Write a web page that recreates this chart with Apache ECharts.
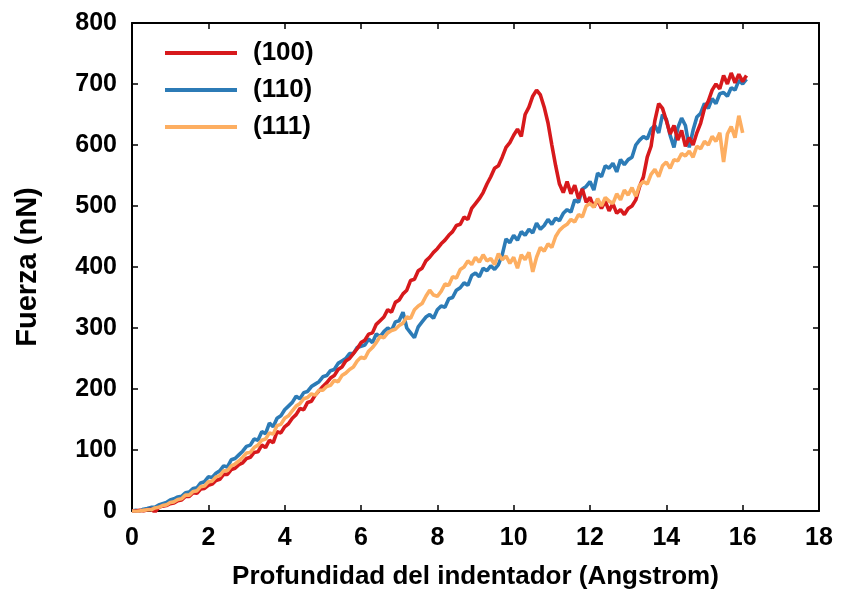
<!DOCTYPE html>
<html>
<head>
<meta charset="utf-8">
<script src="https://cdn.jsdelivr.net/npm/echarts@6/dist/echarts.min.js"></script>
<style>html,body{margin:0;padding:0;background:#fff}#c{width:841px;height:595px}</style>
</head>
<body>
<div id="c"></div>
<script>
// Depth (Angstrom), step 0.1
const depth = [];
for (let i = 0; i <= 161; i++) depth.push(+(i / 10).toFixed(1));

const xTicks = [0, 2, 4, 6, 8, 10, 12, 14, 16, 18];
const yTicks = [0, 100, 200, 300, 400, 500, 600, 700, 800];
const seriesNames = ['(100)', '(110)', '(111)'];

const f100 = [0,0,1,0,2,3,-2,6,8,9,12,13,17,18,24,24,30,29,36,37,42,44,50,52,60,60,68,70,76,79,86,88,96,97,108,104,116,112,130,128,138,143,152,158,168,166,178,180,190,197,204,210,218,222,232,236,246,250,258,266,276,280,290,292,306,312,318,330,326,342,346,356,362,378,380,394,398,410,416,424,430,438,444,452,458,468,470,482,478,496,504,512,522,536,548,562,566,580,596,604,616,626,614,650,662,680,690,682,662,636,600,566,536,522,540,520,534,512,528,506,514,498,510,496,508,492,504,488,494,486,496,500,510,532,548,580,598,640,668,660,640,618,632,608,624,598,612,600,620,636,660,672,690,700,692,714,700,718,702,716,704,714];

const f110 = [0,1,0,3,4,6,6,10,12,14,18,20,23,24,30,31,37,38,46,48,56,55,62,66,74,72,84,86,92,98,106,108,118,116,130,127,144,138,152,156,166,172,178,188,184,194,196,204,208,212,220,222,230,232,242,246,250,258,258,268,270,272,282,276,290,286,294,300,296,310,312,326,300,292,284,302,310,318,322,316,330,336,334,348,350,362,366,374,370,386,390,384,398,394,402,396,404,420,446,440,452,444,458,452,462,456,472,462,468,478,470,480,476,488,494,490,510,506,528,532,540,526,554,548,566,562,570,556,576,568,576,580,600,608,614,610,626,632,620,650,642,616,596,628,644,632,596,624,646,652,668,660,676,668,684,686,680,694,690,706,700,708];

const f111 = [0,-1,0,1,2,2,5,6,9,10,14,15,19,20,26,26,32,33,40,41,48,49,56,58,66,66,74,77,82,88,95,96,104,108,116,118,128,126,140,142,152,156,164,172,176,184,186,192,190,198,198,204,206,214,212,222,226,232,236,246,252,250,262,268,276,286,284,292,296,298,304,308,318,316,330,336,340,352,362,354,352,360,372,370,384,382,396,400,410,404,416,408,420,410,414,404,422,412,418,406,416,398,420,412,424,392,416,432,426,438,432,450,460,466,470,478,474,486,482,500,504,498,512,500,514,508,504,520,510,526,518,530,516,534,540,536,552,560,548,566,572,562,576,574,586,582,590,580,598,594,606,600,614,606,620,572,618,630,612,648,620];

const colors = ['#d7191c', '#2c7bb6', '#fdae61'];
const font = "'Liberation Sans', Arial, Helvetica, sans-serif";

function pairs(ys) { return ys.map((v, i) => [depth[i], v]); }

const chart = echarts.init(document.getElementById('c'), null, { renderer: 'canvas' });

const axisLineStyle = { color: '#000', width: 2 };
const baseX = {
  type: 'value', min: 0, max: 18, interval: 2,
  axisLine: { show: true, onZero: false, lineStyle: axisLineStyle },
  axisTick: { show: true, inside: true, length: 6, lineStyle: { color: '#000', width: 1.5 } },
  splitLine: { show: false }
};
const baseY = {
  type: 'value', min: 0, max: 800, interval: 100,
  axisLine: { show: true, onZero: false, lineStyle: axisLineStyle },
  axisTick: { show: true, inside: true, length: 6, lineStyle: { color: '#000', width: 1.5 } },
  splitLine: { show: false }
};

chart.setOption({
  animation: false,
  color: colors,
  grid: { left: 132, right: 22, top: 23, bottom: 84, containLabel: false },
  legend: {
    orient: 'vertical', left: 160, top: 35, itemWidth: 72, itemHeight: 4, itemGap: 11,
    icon: 'rect',
    data: seriesNames,
    textStyle: { fontFamily: font, fontWeight: 'bold', fontSize: 26, color: '#000', padding: [0, 0, 0, 11] }
  },
  xAxis: [
    Object.assign({}, baseX, {
      position: 'bottom',
      name: 'Profundidad del indentador (Angstrom)', nameLocation: 'middle', nameGap: 53,
      nameTextStyle: { fontFamily: font, fontWeight: 'bold', fontSize: 26, color: '#000' },
      axisLabel: { show: true, margin: 15, fontFamily: font, fontWeight: 'bold', fontSize: 25, color: '#000',
        formatter: v => xTicks.includes(v) ? String(v) : '' }
    }),
    Object.assign({}, baseX, { position: 'top', axisLabel: { show: false } })
  ],
  yAxis: [
    Object.assign({}, baseY, {
      position: 'left',
      name: 'Fuerza (nN)', nameLocation: 'middle', nameGap: 90, nameRotate: 90,
      nameTextStyle: { fontFamily: font, fontWeight: 'bold', fontSize: 29, color: '#000' },
      axisLabel: { show: true, margin: 15, fontFamily: font, fontWeight: 'bold', fontSize: 25, color: '#000',
        formatter: v => yTicks.includes(v) ? String(v) : '' }
    }),
    Object.assign({}, baseY, { position: 'right', axisLabel: { show: false } })
  ],
  series: [
    { name: seriesNames[0], type: 'line', data: pairs(f100), showSymbol: false, lineStyle: { width: 3.6 }, z: 3 },
    { name: seriesNames[1], type: 'line', data: pairs(f110), showSymbol: false, lineStyle: { width: 3.6 }, z: 2 },
    { name: seriesNames[2], type: 'line', data: pairs(f111), showSymbol: false, lineStyle: { width: 3.6 }, z: 4 }
  ]
});
</script>
</body>
</html>
